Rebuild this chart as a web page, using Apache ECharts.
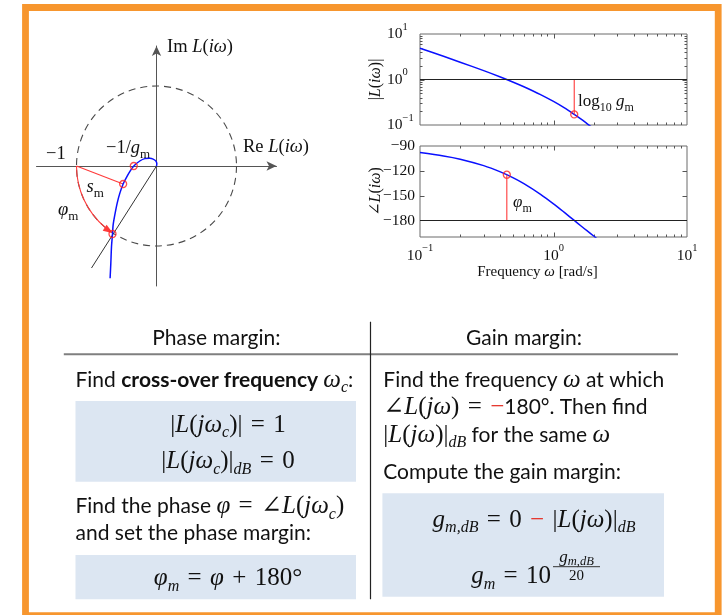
<!DOCTYPE html>
<html>
<head>
<meta charset="utf-8">
<title>Phase and gain margin</title>
<script src="https://cdn.jsdelivr.net/npm/echarts@6.0.0/dist/echarts.min.js"></script>
<style>
html, body { margin: 0; padding: 0; background: #fff; }
#chart { width: 724px; height: 615px; }
</style>
</head>
<body>
<div id="chart"></div>
<script>
// ---- Nyquist plot: [Re, Im] of L(iω) ----
const nyquistCurve = [
  [0, 0], [0.004, 0.03], [-0.01, 0.064], [-0.042, 0.086], [-0.084, 0.096],
  [-0.146, 0.092], [-0.209, 0.0625], [-0.284, 0], [-0.334, -0.071],
  [-0.375, -0.142], [-0.417, -0.225], [-0.459, -0.342], [-0.492, -0.467],
  [-0.521, -0.612], [-0.542, -0.737], [-0.55, -0.85], [-0.5625, -1.008],
  [-0.571, -1.217], [-0.58, -1.404]
];
const criticalPoint = [-1, 0];
const realAxisCrossing = [-0.284, 0];
const stabilityMarginPoint = [-0.417, -0.225];
const phaseMarginPoint = [-0.55, -0.85];
const phaseMarginRayEnd = [-0.8125, -1.275];

// ---- Bode plot: frequency [rad/s], magnitude, phase [deg] ----
const bodeFreq  = [0.1, 0.15, 0.2, 0.3, 0.4, 0.5, 0.6, 0.8, 1.0, 1.2, 1.43, 1.6, 1.8, 2.0, 2.1];
const bodeMag   = [4.88, 3.23, 2.40, 1.565, 1.136, 0.873, 0.694, 0.466, 0.329, 0.240, 0.171, 0.136, 0.105, 0.083, 0.074];
const bodePhase = [-98.0, -102.0, -105.9, -113.7, -121.3, -128.5, -135.5, -148.4, -159.9, -170.0, -180.0, -186.4, -193.0, -198.8, -201.5];
const gainCrossoverFreq = 0.447;
const phaseAtGainCrossover = -124.7;
const phaseCrossoverFreq = 1.43;
const magAtPhaseCrossover = 0.171;
const unitGain = 1;
const phaseLimit = -180;

// ---- tick values ----
const decadeTicks = [1];
const subDecadeTicks = [0.2, 0.3, 0.4, 0.5, 0.6, 0.7, 0.8, 0.9, 2, 3, 4, 5, 6, 7, 8, 9];
const phaseTicks = [-180, -150, -120];
const phaseLabelStep = 30;

const ink = '#111';
const serifFont = '"Liberation Serif", "DejaVu Serif", serif';
const sansFont = 'Lato, "Open Sans", "DejaVu Sans", sans-serif';
const mathFont = '"Liberation Serif", "DejaVu Serif", serif';
const blue = '#0a10ff';
const red = '#ff3a3a';
const sp = '\u2004'; // wider space around relations in formulas

function powerLabel(v) {
  const e = Math.round(Math.log10(v));
  return '{b|10}{s|' + (e < 0 ? '\u2212' + (-e) : e) + '}';
}
const powerRich = {
  b: { fontFamily: serifFont, fontSize: 15.5, color: ink, lineHeight: 25 },
  s: { fontFamily: serifFont, fontSize: 10.5, color: ink, lineHeight: 25, verticalAlign: 'top' }
};

// small inward ticks on all four sides of a Bode frame
function tickSeries(xIdx, yIdx, yRef, yMajor, yMinor) {
  const data = [];
  decadeTicks.forEach(v => data.push([v, yRef, 0]));
  subDecadeTicks.forEach(v => data.push([v, yRef, 1]));
  yMajor.forEach(v => data.push([1, v, 2]));
  yMinor.forEach(v => data.push([1, v, 3]));
  return {
    type: 'custom', xAxisIndex: xIdx, yAxisIndex: yIdx, data: data,
    clip: false, silent: true, z: 3,
    renderItem: function (params, api) {
      const cs = params.coordSys;
      const kind = api.value(2);
      const len = (kind % 2 === 0) ? 4.5 : 2.5;
      const style = { stroke: '#555', lineWidth: 1 };
      const p = api.coord([api.value(0), api.value(1)]);
      if (kind < 2) {
        const x = Math.round(p[0]) + 0.5;
        return { type: 'group', children: [
          { type: 'line', shape: { x1: x, y1: cs.y + cs.height, x2: x, y2: cs.y + cs.height - len }, style: style },
          { type: 'line', shape: { x1: x, y1: cs.y, x2: x, y2: cs.y + len }, style: style }
        ]};
      }
      const y = Math.round(p[1]) + 0.5;
      return { type: 'group', children: [
        { type: 'line', shape: { x1: cs.x, y1: y, x2: cs.x + len, y2: y }, style: style },
        { type: 'line', shape: { x1: cs.x + cs.width, y1: y, x2: cs.x + cs.width - len, y2: y }, style: style }
      ]};
    }
  };
}

const hiddenAxisParts = {
  axisTick: { show: false }, splitLine: { show: false }, minorTick: { show: false }
};

const option = {
  animation: false,
  backgroundColor: '#fff',
  grid: [
    { left: 36.5, top: 46, width: 240, height: 240, outerBoundsMode: 'none' },
    { left: 420, top: 34, width: 267, height: 91, show: true, borderColor: '#6b6b6b', borderWidth: 1, outerBoundsMode: 'none' },
    { left: 420, top: 146, width: 267, height: 91, show: true, borderColor: '#6b6b6b', borderWidth: 1, outerBoundsMode: 'none' }
  ],
  xAxis: [
    Object.assign({ gridIndex: 0, type: 'value', min: -1.5, max: 1.5,
      axisLine: { onZero: true, lineStyle: { color: '#555', width: 1 }, symbol: ['none', 'arrow'], symbolSize: [7, 10] },
      axisLabel: { show: false } }, hiddenAxisParts),
    Object.assign({ gridIndex: 1, type: 'log', logBase: 10, min: 0.1, max: 10,
      axisLine: { show: false }, axisLabel: { show: false } }, hiddenAxisParts),
    Object.assign({ gridIndex: 2, type: 'log', logBase: 10, min: 0.1, max: 10,
      axisLine: { show: false },
      axisLabel: { show: true, margin: 6, formatter: powerLabel, rich: powerRich } }, hiddenAxisParts)
  ],
  yAxis: [
    Object.assign({ gridIndex: 0, type: 'value', min: -1.5, max: 1.5,
      axisLine: { onZero: true, lineStyle: { color: '#555', width: 1 }, symbol: ['none', 'arrow'], symbolSize: [7, 10] },
      axisLabel: { show: false } }, hiddenAxisParts),
    Object.assign({ gridIndex: 1, type: 'log', logBase: 10, min: 0.1, max: 10,
      axisLine: { show: false },
      axisLabel: { show: true, align: 'left', margin: 33, formatter: powerLabel, rich: powerRich } }, hiddenAxisParts),
    Object.assign({ gridIndex: 2, type: 'value', min: -200, max: -90, interval: 10,
      axisLine: { show: false },
      axisLabel: { show: true, margin: 5, fontFamily: serifFont, fontSize: 15.5, color: ink,
        formatter: v => (Math.round(v) % phaseLabelStep === 0 ? '\u2212' + Math.abs(Math.round(v)) : '') } }, hiddenAxisParts)
  ],
  series: [
    // Nyquist: unit circle, phase-margin arc with arrow
    {
      type: 'custom', xAxisIndex: 0, yAxisIndex: 0, data: [[0, 0]], clip: false, silent: true, z: 1,
      renderItem: function (params, api) {
        const c = api.coord([0, 0]);
        const r = api.coord([1, 0])[0] - c[0];
        const pm = api.coord(phaseMarginPoint);
        const cp = api.coord(criticalPoint);
        const endAng = Math.atan2(pm[1] - c[1], pm[0] - c[0]);
        const startAng = Math.atan2(cp[1] - c[1], cp[0] - c[0]);
        const tip = [c[0] + r * Math.cos(endAng), c[1] + r * Math.sin(endAng)];
        const d = [Math.sin(endAng), -Math.cos(endAng)];
        const aLen = 10, aHalf = 3.6;
        const base = [tip[0] - d[0] * aLen, tip[1] - d[1] * aLen];
        const n = [-d[1], d[0]];
        return { type: 'group', children: [
          { type: 'circle', shape: { cx: c[0], cy: c[1], r: r },
            style: { fill: 'none', stroke: '#4a4a4a', lineWidth: 1.1, lineDash: [7, 5] } },
          { type: 'arc', shape: { cx: c[0], cy: c[1], r: r, startAngle: endAng + aLen / r, endAngle: startAng, clockwise: true },
            style: { fill: 'none', stroke: red, lineWidth: 1.1 } },
          { type: 'polygon', shape: { points: [tip, [base[0] + n[0] * aHalf, base[1] + n[1] * aHalf], [base[0] - n[0] * aHalf, base[1] - n[1] * aHalf]] },
            style: { fill: red } }
        ]};
      }
    },
    { type: 'line', xAxisIndex: 0, yAxisIndex: 0, data: [[0, 0], phaseMarginRayEnd], showSymbol: false, silent: true,
      lineStyle: { color: '#333', width: 1 }, z: 2 },
    { type: 'line', xAxisIndex: 0, yAxisIndex: 0, data: [criticalPoint, stabilityMarginPoint], showSymbol: false, silent: true,
      lineStyle: { color: red, width: 1.1 }, z: 2 },
    { type: 'line', xAxisIndex: 0, yAxisIndex: 0, data: nyquistCurve, showSymbol: false, smooth: 0.3, silent: true,
      lineStyle: { color: blue, width: 1.5 }, z: 3 },
    { type: 'scatter', xAxisIndex: 0, yAxisIndex: 0, data: [realAxisCrossing, stabilityMarginPoint, phaseMarginPoint],
      symbol: 'circle', symbolSize: 7, silent: true, z: 4,
      itemStyle: { color: 'rgba(0,0,0,0)', borderColor: '#ff2020', borderWidth: 1.3 } },

    // Bode magnitude
    { type: 'line', xAxisIndex: 1, yAxisIndex: 1, data: bodeFreq.map((f, i) => [f, bodeMag[i]]),
      showSymbol: false, smooth: 0.3, silent: true, lineStyle: { color: blue, width: 1.5 }, z: 3,
      markLine: { silent: true, symbol: 'none', label: { show: false }, lineStyle: { color: '#222', width: 1, type: 'solid' },
        data: [{ yAxis: unitGain }] } },
    { type: 'line', xAxisIndex: 1, yAxisIndex: 1, data: [[phaseCrossoverFreq, unitGain], [phaseCrossoverFreq, magAtPhaseCrossover]],
      showSymbol: false, silent: true, lineStyle: { color: red, width: 1.1 }, z: 4 },
    { type: 'scatter', xAxisIndex: 1, yAxisIndex: 1, data: [[phaseCrossoverFreq, magAtPhaseCrossover]],
      symbol: 'circle', symbolSize: 7, silent: true, z: 5,
      itemStyle: { color: 'rgba(0,0,0,0)', borderColor: '#ff2020', borderWidth: 1.3 } },
    tickSeries(1, 1, 1, decadeTicks, subDecadeTicks),

    // Bode phase
    { type: 'line', xAxisIndex: 2, yAxisIndex: 2, data: bodeFreq.map((f, i) => [f, bodePhase[i]]),
      showSymbol: false, smooth: 0.3, silent: true, lineStyle: { color: blue, width: 1.5 }, z: 3,
      markLine: { silent: true, symbol: 'none', label: { show: false }, lineStyle: { color: '#222', width: 1, type: 'solid' },
        data: [{ yAxis: phaseLimit }] } },
    { type: 'line', xAxisIndex: 2, yAxisIndex: 2, data: [[gainCrossoverFreq, phaseLimit], [gainCrossoverFreq, phaseAtGainCrossover]],
      showSymbol: false, silent: true, lineStyle: { color: red, width: 1.1 }, z: 4 },
    { type: 'scatter', xAxisIndex: 2, yAxisIndex: 2, data: [[gainCrossoverFreq, phaseAtGainCrossover]],
      symbol: 'circle', symbolSize: 7, silent: true, z: 5,
      itemStyle: { color: 'rgba(0,0,0,0)', borderColor: '#ff2020', borderWidth: 1.3 } },
    tickSeries(2, 2, -150, phaseTicks, [])
  ]
};

// ---- annotation text and the summary table ----
function txt(x, y, text, rich, align, extra) {
  return Object.assign({ type: 'text', x: x, y: y, silent: true,
    style: { text: text, rich: rich, align: align || 'left', verticalAlign: 'middle', fill: ink } }, extra || {});
}
function plotRich(size) {
  const lh = Math.round(size * 1.4);
  return {
    r: { fontFamily: serifFont, fontSize: size, fill: ink, lineHeight: lh },
    i: { fontFamily: serifFont, fontSize: size, fontStyle: 'italic', fill: ink, lineHeight: lh },
    sub: { fontFamily: serifFont, fontSize: Math.round(size * 0.72), fill: ink, lineHeight: lh, verticalAlign: 'bottom' }
  };
}
const nyqRich = plotRich(18.5);
const bodeRich = plotRich(17);

const T = 21, M = 25, LH = 32;
const tableRich = {
  t:   { fontFamily: sansFont, fontSize: T, fill: ink, lineHeight: LH },
  b:   { fontFamily: sansFont, fontSize: T, fontWeight: 'bold', fill: ink, lineHeight: LH },
  mr:  { fontFamily: mathFont, fontSize: M, fill: ink, lineHeight: LH },
  mi:  { fontFamily: mathFont, fontSize: M, fontStyle: 'italic', fill: ink, lineHeight: LH },
  ms:  { fontFamily: mathFont, fontSize: 16, fontStyle: 'italic', fill: ink, lineHeight: LH, verticalAlign: 'bottom' },
  red: { fontFamily: mathFont, fontSize: M, fill: '#e53228', lineHeight: LH }
};
const fracRich = {
  fi: { fontFamily: mathFont, fontSize: 17, fontStyle: 'italic', fill: ink, lineHeight: 20 },
  fs: { fontFamily: mathFont, fontSize: 12.5, fontStyle: 'italic', fill: ink, lineHeight: 20, verticalAlign: 'bottom' },
  fr: { fontFamily: mathFont, fontSize: 15, fill: ink, lineHeight: 20 }
};
const boxFill = '#dce6f2';

option.graphic = [
  // orange frame
  { type: 'rect', silent: true, shape: { x: 25.5, y: 7.5, width: 692.7, height: 608.2 },
    style: { fill: 'none', stroke: '#f7962e', lineWidth: 6.8 } },

  // Nyquist labels
  txt(167, 47, '{r|Im }{i|L}{r|(}{i|iω}{r|)}', nyqRich),
  txt(243, 147, '{r|Re }{i|L}{r|(}{i|iω}{r|)}', nyqRich),
  txt(46, 154, '{r|\u22121}', nyqRich),
  txt(106, 148, '{r|\u22121/}{i|g}{sub|m}', nyqRich),
  txt(86.5, 187, '{i|s}{sub|m}', nyqRich),
  txt(58, 210, '{i|φ}{sub|m}', nyqRich),

  // Bode labels
  txt(578, 102, '{r|log}{sub|10}{r| }{i|g}{sub|m}', bodeRich),
  txt(513, 203, '{i|φ}{sub|m}', bodeRich),
  txt(537.5, 272, '{r|Frequency }{i|ω}{r| [rad/s]}', plotRich(15), 'center'),
  txt(376, 79.5, '{r||}{i|L}{r|(}{i|iω}{r|)|}', plotRich(16), 'center', { rotation: Math.PI / 2 }),
  txt(376, 191.5, '{r|∠}{i|L}{r|(}{i|iω}{r|)}', plotRich(16), 'center', { rotation: Math.PI / 2 }),

  // table boxes and rules
  { type: 'rect', silent: true, shape: { x: 75.5, y: 401, width: 280.5, height: 80.7 }, style: { fill: boxFill } },
  { type: 'rect', silent: true, shape: { x: 75.5, y: 555, width: 280.5, height: 44.3 }, style: { fill: boxFill } },
  { type: 'rect', silent: true, shape: { x: 382.4, y: 493.3, width: 281.6, height: 103.4 }, style: { fill: boxFill } },
  { type: 'line', silent: true, shape: { x1: 63.8, y1: 354.3, x2: 678, y2: 354.3 }, style: { stroke: '#7f7f7f', lineWidth: 2 } },
  { type: 'line', silent: true, shape: { x1: 370.5, y1: 321.7, x2: 370.5, y2: 599.3 }, style: { stroke: '#222', lineWidth: 1.2 } },

  // headers
  txt(216.4, 338, '{t|Phase margin:}', tableRich, 'center'),
  txt(524, 338, '{t|Gain margin:}', tableRich, 'center'),

  // phase margin column
  txt(75.5, 380, '{t|Find }{b|cross-over frequency }{mi|ω}{ms|c}{t|:}', tableRich),
  txt(228, 425, '{mr||}{mi|L}{mr|(}{mi|jω}{ms|c}{mr|)|}{mr|' + sp + '=' + sp + '1}', tableRich, 'center'),
  txt(228, 461.7, '{mr||}{mi|L}{mr|(}{mi|jω}{ms|c}{mr|)|}{ms|dB}{mr|' + sp + '=' + sp + '0}', tableRich, 'center'),
  txt(75.5, 506.7, '{t|Find the phase }{mi|φ}{mr|' + sp + '=' + sp + '∠}{mi|L}{mr|(}{mi|jω}{ms|c}{mr|)}', tableRich),
  txt(75.5, 533.3, '{t|and set the phase margin:}', tableRich),
  txt(228, 578.3, '{mi|φ}{ms|m}{mr|' + sp + '=' + sp + '}{mi|φ}{mr|' + sp + '+' + sp + '180°}', tableRich, 'center'),

  // gain margin column
  txt(383.3, 380, '{t|Find the frequency }{mi|ω}{t| at which}', tableRich),
  txt(383.3, 407.3, '{mr|∠}{mi|L}{mr|(}{mi|jω}{mr|)' + sp + '=' + sp + '}{red|\u2212}{t|180°. Then find}', tableRich),
  txt(383.3, 435, '{mr||}{mi|L}{mr|(}{mi|jω}{mr|)|}{ms|dB}{t| for the same }{mi|ω}', tableRich),
  txt(383.3, 472.3, '{t|Compute the gain margin:}', tableRich),
  txt(534, 520, '{mi|g}{ms|m,dB}{mr|' + sp + '=' + sp + '0' + sp + '}{red|\u2212}{mr|' + sp + '|}{mi|L}{mr|(}{mi|jω}{mr|)|}{ms|dB}', tableRich, 'center'),
  txt(551, 576.7, '{mi|g}{ms|m}{mr|' + sp + '=' + sp + '10}', tableRich, 'right'),
  txt(576.5, 558, '{fi|g}{fs|m,dB}', fracRich, 'center'),
  { type: 'line', silent: true, shape: { x1: 553, y1: 566.7, x2: 600, y2: 566.7 }, style: { stroke: '#333', lineWidth: 1 } },
  txt(576.5, 576, '{fr|20}', fracRich, 'center')
];

const chart = echarts.init(document.getElementById('chart'));
chart.setOption(option);
</script>
</body>
</html>
